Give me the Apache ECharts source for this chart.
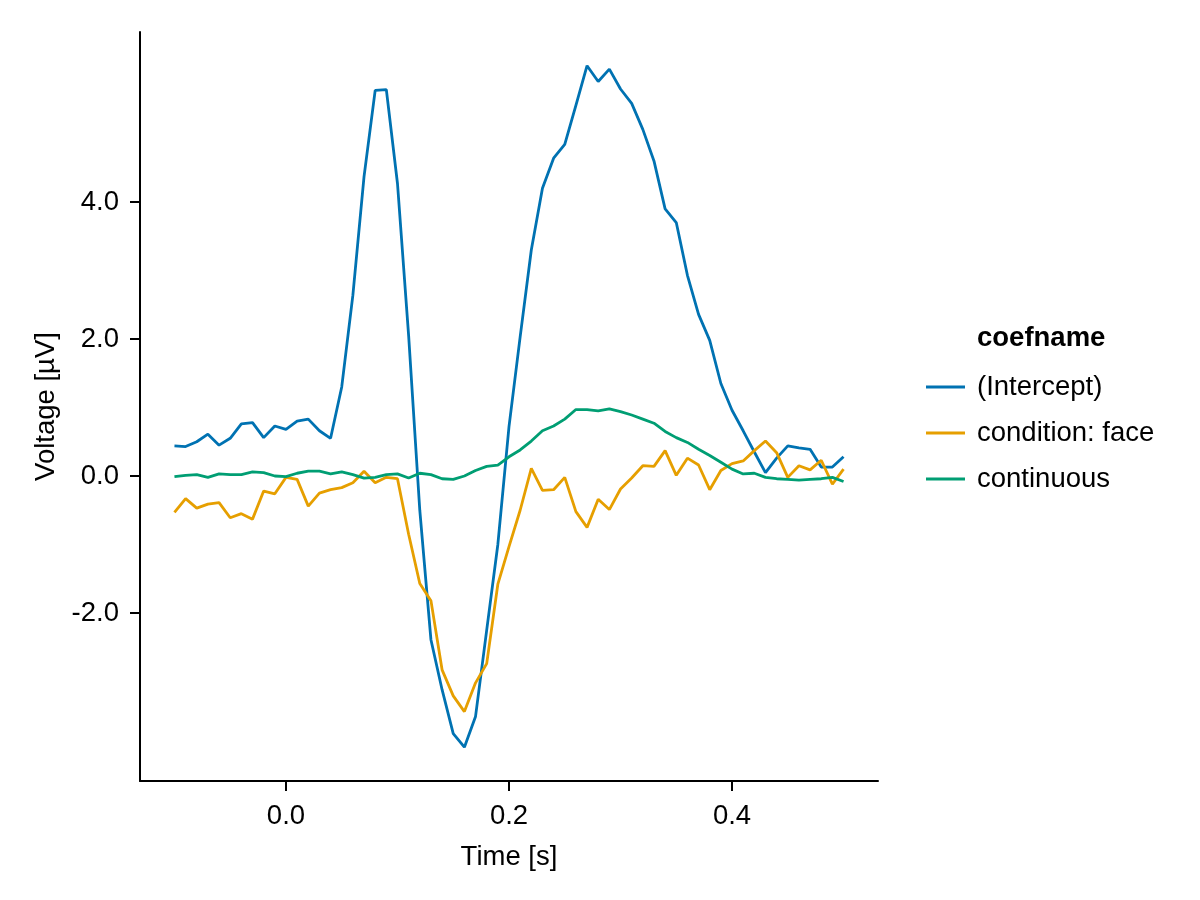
<!DOCTYPE html>
<html>
<head>
<meta charset="utf-8">
<script src="https://cdn.jsdelivr.net/npm/echarts@6/dist/echarts.min.js"></script>
<style>html,body{margin:0;padding:0;background:#fff;}#chart{width:1200px;height:900px;}</style>
</head>
<body>
<div id="chart"></div>
<script>
const times = [-0.10,-0.09,-0.08,-0.07,-0.06,-0.05,-0.04,-0.03,-0.02,-0.01,
  0.00,0.01,0.02,0.03,0.04,0.05,0.06,0.07,0.08,0.09,
  0.10,0.11,0.12,0.13,0.14,0.15,0.16,0.17,0.18,0.19,
  0.20,0.21,0.22,0.23,0.24,0.25,0.26,0.27,0.28,0.29,
  0.30,0.31,0.32,0.33,0.34,0.35,0.36,0.37,0.38,0.39,
  0.40,0.41,0.42,0.43,0.44,0.45,0.46,0.47,0.48,0.49,0.50];

const intercept = [0.44,0.43,0.50,0.61,0.45,0.55,0.76,0.78,0.56,0.73,
  0.68,0.80,0.83,0.66,0.55,1.30,2.64,4.37,5.63,5.64,
  4.27,2.05,-0.50,-2.39,-3.12,-3.76,-3.96,-3.51,-2.25,-1.00,
  0.72,2.03,3.30,4.20,4.64,4.84,5.41,5.99,5.76,5.94,
  5.65,5.44,5.06,4.60,3.90,3.70,2.93,2.36,1.98,1.35,
  0.96,0.66,0.35,0.05,0.26,0.44,0.41,0.39,0.13,0.13,0.28];

const conditionFace = [-0.53,-0.33,-0.47,-0.41,-0.39,-0.61,-0.55,-0.63,-0.22,-0.26,
  -0.02,-0.05,-0.44,-0.25,-0.20,-0.17,-0.10,0.07,-0.10,-0.02,
  -0.04,-0.85,-1.57,-1.82,-2.83,-3.21,-3.44,-3.02,-2.74,-1.58,
  -1.03,-0.50,0.11,-0.21,-0.20,-0.02,-0.52,-0.75,-0.34,-0.49,
  -0.19,-0.03,0.15,0.14,0.37,0.01,0.26,0.16,-0.20,0.08,
  0.18,0.22,0.37,0.51,0.34,-0.02,0.15,0.09,0.23,-0.12,0.10];

const continuous = [-0.01,0.01,0.02,-0.02,0.03,0.02,0.02,0.06,0.05,0.00,
  -0.01,0.04,0.07,0.07,0.03,0.06,0.02,-0.03,-0.02,0.02,
  0.03,-0.03,0.04,0.02,-0.04,-0.05,0.00,0.08,0.14,0.16,
  0.28,0.38,0.51,0.66,0.73,0.83,0.97,0.97,0.95,0.98,
  0.94,0.89,0.83,0.77,0.65,0.56,0.49,0.39,0.30,0.20,
  0.10,0.03,0.04,-0.02,-0.04,-0.05,-0.06,-0.05,-0.04,-0.02,-0.08];

const seriesNames = ['(Intercept)','condition: face','continuous'];
const seriesColors = ['#0072B2','#E69F00','#009E73'];
const xTicks = [0.0, 0.2, 0.4];
const yTicks = [-2.0, 0.0, 2.0, 4.0];

const FONT = 'Liberation Sans';
const FS = 27.5;
const values = [intercept, conditionFace, continuous];

const chart = echarts.init(document.getElementById('chart'), null, {renderer:'canvas'});
chart.setOption({
  animation: false,
  backgroundColor: '#fff',
  textStyle: {fontFamily: FONT},
  title: {
    text: 'coefname', left: 977, top: 324, padding: 0,
    textStyle: {fontFamily: FONT, fontWeight: 'bold', fontSize: FS, color: '#000'}
  },
  legend: {
    orient: 'vertical', left: 926, top: 373, padding: 0,
    icon: 'rect', itemWidth: 39, itemHeight: 3, itemGap: 18,
    data: seriesNames,
    textStyle: {fontFamily: FONT, fontSize: FS, color: '#000', lineHeight: 28, padding: [0,0,0,7]}
  },
  grid: {left: 140, right: 322, top: 32, bottom: 119, containLabel: false},
  xAxis: {
    type: 'value', min: -0.1309, max: 0.5309,
    name: 'Time [s]', nameLocation: 'middle', nameGap: 62,
    nameTextStyle: {fontFamily: FONT, fontSize: FS, color: '#000'},
    axisLine: {show: true, onZero: false, lineStyle: {color: '#000', width: 2}},
    axisTick: {show: true, length: 10, lineStyle: {color: '#000', width: 2}, customValues: xTicks},
    axisLabel: {fontFamily: FONT, fontSize: FS, color: '#000', margin: 21, customValues: xTicks,
      formatter: v => v.toFixed(1)},
    splitLine: {show: false}
  },
  yAxis: {
    type: 'value', min: -4.453, max: 6.482,
    name: 'Voltage [µV]', nameLocation: 'middle', nameGap: 78, nameRotate: 90,
    nameTextStyle: {fontFamily: FONT, fontSize: FS, color: '#000'},
    axisLine: {show: true, onZero: false, lineStyle: {color: '#000', width: 2}},
    axisTick: {show: true, length: 10, lineStyle: {color: '#000', width: 2}, customValues: yTicks},
    axisLabel: {fontFamily: FONT, fontSize: FS, color: '#000', margin: 21, customValues: yTicks,
      formatter: v => v.toFixed(1)},
    splitLine: {show: false}
  },
  series: seriesNames.map((n, k) => ({
    name: n, type: 'line', showSymbol: false, symbol: 'none',
    data: times.map((t, i) => [t, values[k][i]]),
    lineStyle: {color: seriesColors[k], width: 2.8},
    itemStyle: {color: seriesColors[k]},
    emphasis: {disabled: true}
  }))
});
</script>
</body>
</html>
